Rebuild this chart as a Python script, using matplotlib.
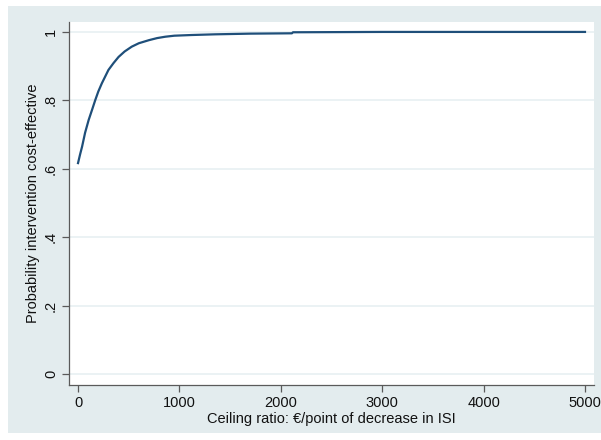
import matplotlib.pyplot as plt
from matplotlib.patches import Rectangle

# ceiling ratio (EUR per point of decrease in ISI) and probability cost-effective
ceiling = [0, 20, 40, 70, 105, 140, 170, 200, 235, 270, 300, 350, 400, 460, 530, 600, 700, 780,
           860, 950, 1120, 1350, 1700, 2110, 2120, 3000, 4000, 5000]
prob = [0.616, 0.641, 0.664, 0.705, 0.742, 0.773, 0.800, 0.825, 0.849, 0.870, 0.888, 0.908, 0.926, 0.942,
        0.956, 0.966, 0.975, 0.981, 0.985, 0.988, 0.990, 0.992, 0.994, 0.995, 0.998, 0.999, 0.999, 0.999]

xticks = [0, 1000, 2000, 3000, 4000, 5000]
yticks = [0, 0.2, 0.4, 0.6, 0.8, 1.0]
ytick_labels = ["0", ".2", ".4", ".6", ".8", "1"]

BG = "#E3ECEE"
LINE = "#1F4F7A"
AXC = "#5A5A5A"

plt.rcParams["font.family"] = ["Liberation Sans", "DejaVu Sans"]

fig = plt.figure(figsize=(6.01, 4.40), dpi=100)
fig.patch.set_facecolor("white")
W, H = 601, 440
fig.add_artist(Rectangle((8 / W, 1 - 433 / H), (601 - 8) / W, (433 - 6) / H,
                         transform=fig.transFigure, facecolor=BG, edgecolor="none", zorder=0))

ax = fig.add_axes([69 / W, 1 - 385 / H, (594 - 69) / W, (385 - 22) / H])
ax.set_facecolor("white")

for y in yticks:
    ax.axhline(y, color="#E8F0F2", linewidth=1.2, zorder=1)

ax.plot(ceiling, prob, color=LINE, linewidth=1.6, zorder=3, solid_joinstyle="round")

ax.set_xlim(-89, 5089)
ax.set_ylim(-0.032, 1.028)
ax.set_xticks(xticks)
ax.set_yticks(yticks)
ax.set_yticklabels(ytick_labels, rotation=90, va="center")

for s in ["top", "right"]:
    ax.spines[s].set_visible(False)
for s in ["left", "bottom"]:
    ax.spines[s].set_color(AXC)
    ax.spines[s].set_linewidth(0.9)

ax.tick_params(axis="both", direction="out", length=5, width=0.9, color=AXC,
               labelsize=10.5, labelcolor="#111111", pad=3)

ax.set_xlabel("Ceiling ratio: €/point of decrease in ISI", fontsize=10.5, labelpad=1, color="#111111")
ax.set_ylabel("Probability intervention cost-effective", fontsize=10.5, labelpad=3, color="#111111")

fig.savefig("out.png", dpi=100)
